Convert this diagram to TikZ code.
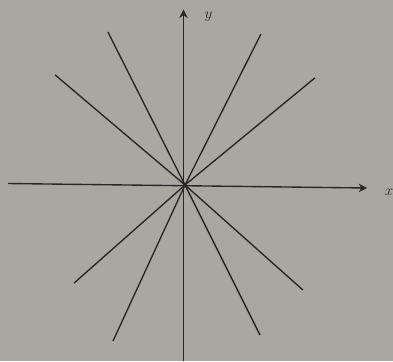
\documentclass[tikz,border=0pt]{standalone}
\usepackage{tikz}
\usetikzlibrary{arrows.meta}
\definecolor{paper}{HTML}{AAA7A3}
\definecolor{ink}  {HTML}{2A2626}

\begin{document}
\begin{tikzpicture}[
    axis/.style={ink, line width=1.3pt, -{Stealth[length=8pt, width=8pt]}},
    ray/.style={ink, line width=1.3pt},
    lbl/.style={text=ink, font=\Large}
  ]
  % background and frame of the photo
  \fill[paper] (-6.167,-5.867) rectangle (6.933,6.167);
  \useasboundingbox (-6.167,-5.867) rectangle (6.933,6.167);
  \coordinate (O) at (0,0);
  % axes
  \coordinate (xl) at (-5.9,0.05);
  \coordinate (xr) at (6.07,-0.1);
  \coordinate (yb) at (-0.05,-5.87);
  \coordinate (yt) at (-0.05,5.85);
  \draw[axis] (xl) -- (xr);
  \draw[axis] (yb) -- (yt);
  \node[lbl] (xlab) at (6.8,-0.25) {$x$};
  \node[lbl] (ylab) at (0.78,5.62) {$y$};
  % lines through the origin
  \coordinate (a1) at (-4.33,3.67);  \coordinate (a2) at (3.93,-3.5);
  \coordinate (b1) at (-2.57,5.1);   \coordinate (b2) at (2.5,-5.0);
  \coordinate (c1) at (2.53,5.03);   \coordinate (c2) at (-2.4,-5.2);
  \coordinate (d1) at (4.33,3.57);   \coordinate (d2) at (-3.7,-3.27);
  \draw[ray] (a1) -- (O) -- (a2);
  \draw[ray] (b1) -- (O) -- (b2);
  \draw[ray] (c1) -- (O) -- (c2);
  \draw[ray] (d1) -- (O) -- (d2);
\end{tikzpicture}
\end{document}
